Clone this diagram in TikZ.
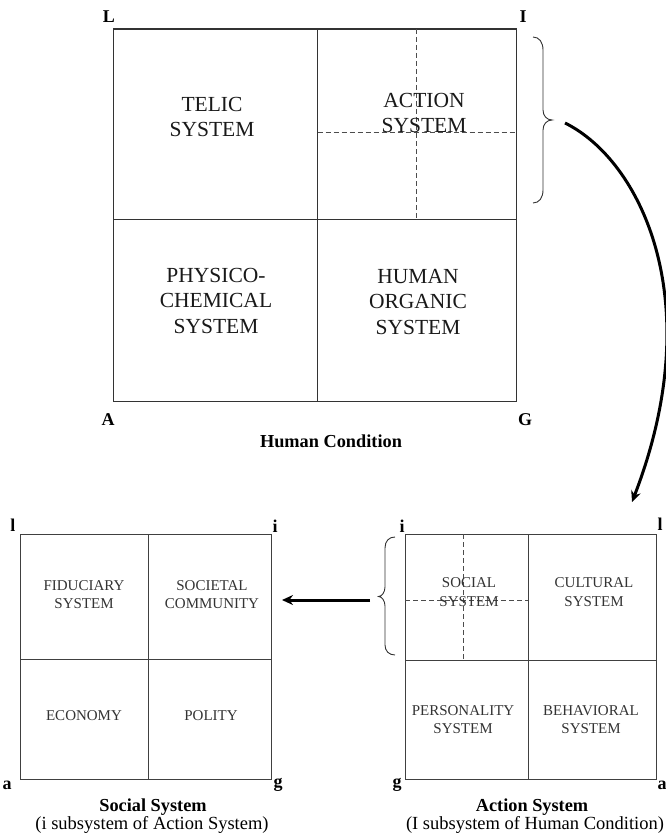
\documentclass[tikz,border=0pt]{standalone}
\usepackage{fontspec}
\setmainfont{Liberation Serif}
\usetikzlibrary{arrows.meta}
\begin{document}
\begin{tikzpicture}[x=1pt,y=-1pt,
  frame/.style={draw=black!80, line width=1.3pt},
  thinframe/.style={draw=black!75, line width=1pt},
  split/.style={draw=black!70, line width=0.9pt, dash pattern=on 5pt off 3pt},
  bigtext/.style={align=center, font=\fontsize{21.5}{25.5}\selectfont, text=black!90, inner sep=0pt},
  smalltext/.style={align=center, font=\fontsize{15}{18.5}\selectfont, text=black!80, inner sep=0pt},
  corner/.style={font=\fontsize{18}{20}\selectfont\bfseries, inner sep=0pt},
  caption/.style={font=\fontsize{18.5}{20}\selectfont, inner sep=0pt},
  captionbold/.style={font=\fontsize{18.3}{20}\selectfont\bfseries, inner sep=0pt},
  bracepath/.style={draw=black!80, line width=0.9pt},
  link/.style={draw=black, line width=3pt, -{Stealth[length=11pt,width=10pt]}},
]
\useasboundingbox (0,0) rectangle (666,840);

% ---------- Human Condition ----------
\draw[frame] (113.5,29) rectangle (516.7,401.7);
\draw[frame] (317.7,29) -- (317.7,401.7);
\draw[frame] (113.5,219.3) -- (516.7,219.3);
\draw[split] (416.7,29) -- (416.7,219.3);
\draw[split] (317.7,132.7) -- (516.7,132.7);

\node[bigtext] (telic) at (212,117.2) {TELIC\\SYSTEM};
\node[bigtext] (action) at (424,113) {ACTION\\SYSTEM};
\node[bigtext] (physico) at (216,300.5) {PHYSICO-\\CHEMICAL\\SYSTEM};
\node[bigtext] (organic) at (418,302) {HUMAN\\ORGANIC\\SYSTEM};

\node[corner] (cL) at (109,17) {L};
\node[corner] (cI) at (523,17) {I};
\node[corner] (cA) at (108,420) {A};
\node[corner] (cG) at (525,420) {G};
\node[captionbold] (hcTitle) at (331,441) {Human Condition};

% brace over the I cell
\draw[bracepath] (533,37) .. controls (539,37) and (543,42) .. (543,50)
  -- (543,110) .. controls (543,116) and (547,120) .. (552,120)
  .. controls (547,120) and (543,124) .. (543,130)
  -- (543,190) .. controls (543,198) and (539,203) .. (533,203);

% ---------- Social System ----------
\draw[thinframe] (20.7,534) rectangle (271.7,779.3);
\draw[thinframe] (148.3,534) -- (148.3,779.3);
\draw[thinframe] (20.7,659.3) -- (271.7,659.3);

\node[smalltext] (fiduciary) at (84,594.5) {FIDUCIARY\\SYSTEM};
\node[smalltext] (societal) at (212,594.5) {SOCIETAL\\COMMUNITY};
\node[smalltext] (economy) at (84,716) {ECONOMY};
\node[smalltext] (polity) at (211,716) {POLITY};

\node[corner] (sl) at (13,525) {l};
\node[corner] (si) at (275,526.5) {i};
\node[corner] (sa) at (7,785) {a};
\node[corner] (sg) at (278,785) {g};
\node[captionbold] (ssTitle) at (153,807) {Social System};
\node[caption] (ssSub) at (152,825) {(i subsystem of Action System)};

% ---------- Action System ----------
\draw[thinframe] (405,534) rectangle (656,779.3);
\draw[thinframe] (528.3,534) -- (528.3,779.3);
\draw[thinframe] (405,660) -- (656,660);
\draw[split] (463.3,534) -- (463.3,660);
\draw[split] (405,600) -- (528.3,600);

\node[smalltext] (social) at (469,592) {SOCIAL\\SYSTEM};
\node[smalltext] (cultural) at (594,592) {CULTURAL\\SYSTEM};
\node[smalltext] (personality) at (463,719.5) {PERSONALITY\\SYSTEM};
\node[smalltext] (behavioral) at (591,719.5) {BEHAVIORAL\\SYSTEM};

\node[corner] (ai) at (402,526.5) {i};
\node[corner] (al) at (660,524) {l};
\node[corner] (ag) at (397,785) {g};
\node[corner] (aa) at (662,785) {a};
\node[captionbold] (asTitle) at (532,807) {Action System};
\node[caption] (asSub) at (535,825) {(I subsystem of Human Condition)};

% brace beside the i cell
\draw[bracepath] (395,537) .. controls (389,537) and (385,541) .. (385,548)
  -- (385,587) .. controls (385,592) and (382,596.5) .. (378.5,596.5)
  .. controls (382,596.5) and (385,601) .. (385,606)
  -- (385,645) .. controls (385,651) and (389,655) .. (395,655);

% ---------- connectors ----------
\coordinate (hcBraceOut) at (565,123);
\coordinate (asCornerIn) at (632,502);
\coordinate (asBraceOut) at (370,600);
\coordinate (ssEdgeIn) at (282,600);

\draw[link] (hcBraceOut) .. controls (640,160) and (710,300) .. (asCornerIn);
\draw[link] (asBraceOut) -- (ssEdgeIn);
\end{tikzpicture}
\end{document}
